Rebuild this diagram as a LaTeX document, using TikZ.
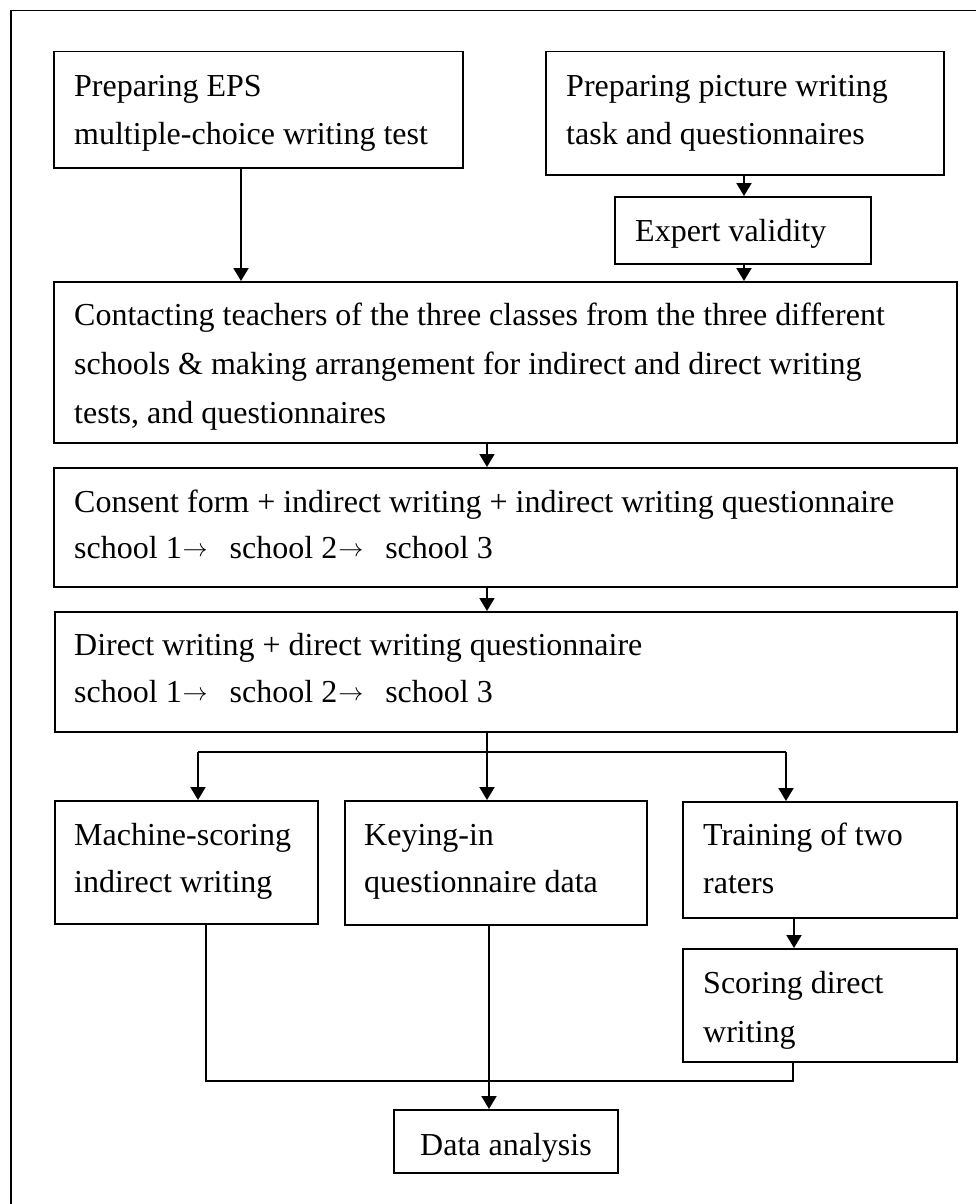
\documentclass[tikz,border=0pt]{standalone}
\usepackage{fontspec}
\setmainfont{Liberation Serif}
\usetikzlibrary{arrows.meta}
\tikzset{
  boxn/.style={draw, line width=1.5pt, inner sep=0pt, rectangle},
  txt/.style={inner sep=0pt, anchor=base west, align=left, font=\fontsize{32}{48}\selectfont},
  arr/.style={line width=2pt, -{Triangle[length=13pt,width=15pt]}},
  thin/.style={line width=1.4pt}
}
\newcommand{\bx}[5]{\node[boxn, anchor=north west, minimum width=#4pt-#2pt, minimum height=#5pt-#3pt] (#1) at (#2,#3) {};}
\newcommand{\sarr}{\hspace{1pt}\raisebox{2pt}{\resizebox{25pt}{!}{$\rightarrow$}}\hspace{22pt}}
\begin{document}
\begin{tikzpicture}[x=1pt,y=-1pt]
\useasboundingbox (0,0) rectangle (976,1204);
\clip (0,0) rectangle (976,1204);
\node[draw, line width=1.5pt, inner sep=0pt, anchor=north west, minimum width=1000pt, minimum height=1230pt] (frame) at (10,10) {};
% boxes
\bx{b1}{53}{51}{462}{167}
\bx{b2}{545}{51}{943}{174}
\bx{b3}{614}{196}{870}{263}
\bx{b4}{53}{281}{956}{442}
\bx{b5}{53}{467}{956}{586}
\bx{b6}{54}{611}{956}{731}
\bx{b7}{54}{800}{317}{923}
\bx{b8}{344}{800}{646}{924}
\bx{b9}{682}{801}{956}{917}
\bx{b10}{682}{948}{956}{1061}
\bx{b11}{393}{1109}{617}{1172}
% texts (anchored at the baseline of the last line)
\node[txt] (t1) at (74,145) {Preparing EPS\\multiple-choice writing test};
\node[txt] (t2) at (566,145) {Preparing picture writing\\task and questionnaires};
\node[txt] (t3) at (635,241) {Expert validity};
\node[txt, font=\fontsize{32}{49}\selectfont] (t4) at (74,423) {Contacting teachers of the three classes from the three different\\schools \& making arrangement for indirect and direct writing\\tests, and questionnaires};
\node[txt, font=\fontsize{32}{46}\selectfont] (t5) at (74,558) {Consent form + indirect writing + indirect writing questionnaire\\school 1\sarr school 2\sarr school 3};
\node[txt, font=\fontsize{32}{47}\selectfont] (t6) at (74,702) {Direct writing + direct writing questionnaire\\school 1\sarr school 2\sarr school 3};
\node[txt, font=\fontsize{32}{47}\selectfont] (t7) at (74,892) {Machine-scoring\\indirect writing};
\node[txt, font=\fontsize{32}{47}\selectfont] (t8) at (364,892) {Keying-in\\questionnaire data};
\node[txt, font=\fontsize{32}{48}\selectfont] (t9) at (703,893) {Training of two\\raters};
\node[txt, font=\fontsize{32}{49}\selectfont] (t10) at (703,1042) {Scoring direct\\writing};
\node[txt] (t11) at (420,1155) {Data analysis};
% connector columns
\coordinate (c1) at (241,0);
\coordinate (c2) at (744,0);
\coordinate (c3) at (487,0);
\coordinate (c4) at (198,0);
\coordinate (c5) at (786,0);
\coordinate (c6) at (794,0);
\coordinate (c7) at (206,0);
\coordinate (c8) at (489,0);
\coordinate (c9) at (793,0);
\coordinate (r1) at (0,752);
\coordinate (r2) at (0,1081);
% arrows
\draw[arr] (b1.south -| c1) -- (b4.north -| c1);
\draw[arr] (b2.south -| c2) -- (b3.north -| c2);
\draw[arr] (b3.south -| c2) -- (b4.north -| c2);
\draw[arr] (b4.south -| c3) -- (b5.north -| c3);
\draw[arr] (b5.south -| c3) -- (b6.north -| c3);
\draw[arr] (b6.south -| c3) -- (b8.north -| c3);
\draw[line width=2pt] (r1 -| c4) -- (r1 -| c5);
\draw[arr] (r1 -| c4) -- (b7.north -| c4);
\draw[arr] (r1 -| c5) -- (b9.north -| c5);
\draw[arr] (b9.south -| c6) -- (b10.north -| c6);
\draw[thin] (b7.south -| c7) -- (r2 -| c7) -- (r2 -| c9) -- (b10.south -| c9);
\draw[arr] (b8.south -| c8) -- (b11.north -| c8);
\end{tikzpicture}
\end{document}
